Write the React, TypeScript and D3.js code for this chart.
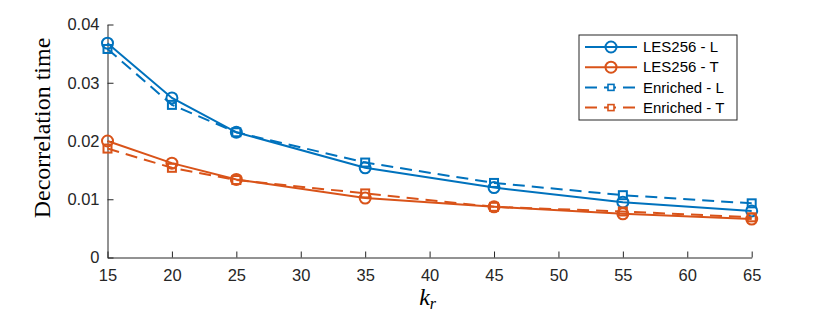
import { useEffect, useRef } from "react";
import * as d3 from "d3";

// k_r values and series
const kr = [15, 20, 25, 35, 45, 55, 65];
const les256L = [0.0368, 0.0274, 0.0215, 0.0154, 0.012, 0.0095, 0.008];
const les256T = [0.02, 0.0162, 0.0134, 0.0102, 0.0087, 0.0075, 0.0066];
const enrichedL = [0.0358, 0.0262, 0.0215, 0.0163, 0.0128, 0.0107, 0.0093];
const enrichedT = [0.0187, 0.0154, 0.0133, 0.011, 0.0087, 0.0079, 0.0069];
const xTicks = [15, 20, 25, 30, 35, 40, 45, 50, 55, 60, 65];
const yTicks = [0, 0.01, 0.02, 0.03, 0.04];

const blue = "#0072BD";
const orange = "#D95319";

const series = [
    { name: "LES256 - L", values: les256L, color: blue, dashed: false, marker: "circle" },
    { name: "LES256 - T", values: les256T, color: orange, dashed: false, marker: "circle" },
    { name: "Enriched - L", values: enrichedL, color: blue, dashed: true, marker: "square" },
    { name: "Enriched - T", values: enrichedT, color: orange, dashed: true, marker: "square" },
];

export default function App() {
    const ref = useRef<SVGSVGElement>(null);

    useEffect(() => {
        const svg = d3.select(ref.current);
        svg.selectAll("*").remove();

        const left = 107.5, right = 751.7, top = 24.5, bottom = 257.5;
        const x = d3.scaleLinear().domain([15, 65]).range([left, right]);
        const y = d3.scaleLinear().domain([0, 0.04]).range([bottom, top]);
        const axisColor = "#262626";
        const font = "'Liberation Sans', Arial, sans-serif";
        const serif = "'Liberation Serif', 'Times New Roman', serif";

        // x axis, ticks point inward
        const xAxis = svg.append("g").attr("transform", `translate(0,${bottom})`)
            .call(d3.axisBottom(x).tickValues(xTicks).tickSizeInner(-6).tickSizeOuter(0).tickPadding(12));
        xAxis.select(".domain").attr("stroke", axisColor);
        xAxis.selectAll("line").attr("stroke", axisColor);
        xAxis.selectAll("text").attr("fill", axisColor).attr("font-size", 16.5).attr("font-family", font);

        const yAxis = svg.append("g").attr("transform", `translate(${left},0)`)
            .call(d3.axisLeft(y).tickValues(yTicks).tickSizeInner(-6).tickSizeOuter(0).tickPadding(8)
                .tickFormat(d => d === 0 ? "0" : d3.format(".2f")(+d)));
        yAxis.select(".domain").attr("stroke", axisColor);
        yAxis.selectAll("line").attr("stroke", axisColor);
        yAxis.selectAll("text").attr("fill", axisColor).attr("font-size", 16.5).attr("font-family", font);

        // axis titles
        svg.append("text")
            .attr("transform", `translate(50,128) rotate(-90)`)
            .attr("text-anchor", "middle")
            .attr("font-family", serif)
            .attr("font-size", 24)
            .attr("fill", "#000")
            .text("Decorrelation time");

        const xl = svg.append("text")
            .attr("x", x(40) - 2).attr("y", 305)
            .attr("text-anchor", "middle")
            .attr("font-family", serif)
            .attr("font-style", "italic")
            .attr("font-size", 24)
            .attr("fill", "#000");
        xl.append("tspan").text("k");
        xl.append("tspan").attr("font-size", 16).attr("dy", 4).text("r");

        const line = d3.line<number>()
            .x((d, i) => x(kr[i]))
            .y(d => y(d));

        series.forEach(s => {
            const g = svg.append("g");
            g.append("path")
                .datum(s.values)
                .attr("fill", "none")
                .attr("stroke", s.color)
                .attr("stroke-width", 2)
                .attr("stroke-dasharray", s.dashed ? "12,7" : null)
                .attr("d", line);
            if (s.marker === "circle") {
                g.selectAll("circle").data(s.values).join("circle")
                    .attr("cx", (d, i) => x(kr[i]))
                    .attr("cy", d => y(d))
                    .attr("r", 5.5)
                    .attr("fill", "none")
                    .attr("stroke", s.color)
                    .attr("stroke-width", 2);
            } else {
                g.selectAll("rect").data(s.values).join("rect")
                    .attr("x", (d, i) => x(kr[i]) - 4)
                    .attr("y", d => y(d) - 4)
                    .attr("width", 8)
                    .attr("height", 8)
                    .attr("fill", "none")
                    .attr("stroke", s.color)
                    .attr("stroke-width", 2);
            }
        });

        // legend
        const lg = svg.append("g");
        lg.append("rect")
            .attr("x", 579).attr("y", 35).attr("width", 158).attr("height", 85)
            .attr("fill", "#fff").attr("stroke", axisColor).attr("stroke-width", 1);
        series.forEach((s, i) => {
            const ry = 47 + i * 20.2;
            lg.append("line")
                .attr("x1", 585).attr("x2", 637).attr("y1", ry).attr("y2", ry)
                .attr("stroke", s.color).attr("stroke-width", 2)
                .attr("stroke-dasharray", s.dashed ? "12,7" : null);
            if (s.marker === "circle") {
                lg.append("circle").attr("cx", 611).attr("cy", ry).attr("r", 5.5)
                    .attr("fill", "none").attr("stroke", s.color).attr("stroke-width", 2);
            } else {
                lg.append("rect").attr("x", 608).attr("y", ry - 3).attr("width", 6).attr("height", 6)
                    .attr("fill", "#fff").attr("stroke", s.color).attr("stroke-width", 1.6);
            }
            lg.append("text")
                .attr("x", 643).attr("y", ry).attr("dy", "0.35em")
                .attr("font-family", font).attr("font-size", 15)
                .attr("fill", "#000")
                .text(s.name);
        });
    }, []);

    return (
        <svg ref={ref} width={830} height={323}
            style={{ position: "absolute", left: 0, top: 0, background: "#fff" }} />
    );
}
